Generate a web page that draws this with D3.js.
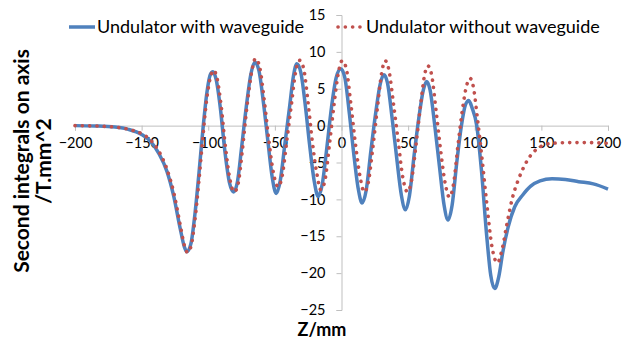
<!DOCTYPE html>
<html>
<head>
<meta charset="utf-8">
<script src="https://cdn.jsdelivr.net/npm/d3@7"></script>
<style>
  html, body { margin: 0; padding: 0; background: #fff; }
  svg { display: block; font-family: Lato, "Open Sans", sans-serif; }
</style>
</head>
<body>
<svg id="chart" width="633" height="340"></svg>
<script>
// Z positions (mm) and second integrals (T.mm^2)
const withZ = [-200, -185, -170, -160, -150, -143, -137, -131, -126, -121, -118, -116, -113, -110, -107, -104, -101, -98.5, -96.5, -94, -91, -87.5, -84, -81, -78, -75, -71.5, -68, -65, -62, -58.5, -55, -52, -49, -46, -42.5, -39, -36, -33.5, -30.5, -27, -24, -20.5, -17.5, -14.5, -11, -7.5, -4, -0.5, 2.5, 6, 9, 12.5, 15.5, 18.5, 22, 25.5, 29, 31.8, 34.5, 38, 41.5, 45, 48, 51, 54.5, 58, 61.5, 64, 66.5, 70, 73.5, 77, 80, 83, 86.5, 90, 93, 95.5, 98, 101.5, 105, 109, 112, 115, 118, 121, 125, 130, 136, 142, 149, 158, 168, 178, 189, 200];
const withVal = [0, -0.05, -0.2, -0.5, -1.2, -2.2, -3.8, -6.2, -9.5, -14.0, -16.4, -17.1, -16.0, -12.0, -6.5, -0.5, 4.5, 6.9, 7.3, 6.2, 2.5, -3.5, -7.8, -9.0, -7.5, -3.0, 2.5, 7.0, 8.6, 7.5, 3.0, -2.5, -7.0, -9.2, -7.5, -2.5, 2.5, 6.8, 8.4, 7.2, 2.5, -2.5, -7.5, -9.6, -8.0, -3.0, 2.5, 6.5, 7.7, 6.5, 1.5, -3.5, -8.5, -10.5, -8.8, -3.5, 1.5, 5.6, 6.9, 5.8, 1.0, -4.5, -9.5, -11.4, -9.5, -4.0, 1.0, 4.9, 6.0, 4.8, 0.0, -5.5, -10.8, -12.8, -10.8, -5.0, 0.0, 2.8, 3.4, 2.4, 0.0, -6.0, -15.0, -20.3, -22.1, -20.5, -17.2, -13.8, -11.0, -9.4, -8.2, -7.5, -7.2, -7.3, -7.6, -7.9, -8.6];

const withoutZ = [-200, -185, -170, -160, -150, -143, -137, -131, -126, -121, -118, -115.5, -113, -110, -107, -104, -101, -98, -96, -93.5, -90.5, -87, -83.5, -80.5, -77.5, -74.5, -71, -67.5, -64.5, -61.5, -58, -54.5, -51, -47.5, -44.5, -41, -37.5, -34.5, -31.5, -28.5, -25, -22, -18.5, -15.5, -12.5, -9, -5.5, -2.5, 0.5, 3.5, 7, 10.5, 14, 17, 20, 23.5, 27, 30, 32.8, 35.5, 39, 42.5, 46, 49.5, 52.5, 56, 59.5, 62.5, 64.8, 67.5, 71, 74.5, 78, 81, 84, 87.5, 91, 94, 96.6, 99, 102, 105.5, 109, 113, 117, 120.5, 124, 128, 133, 138, 143, 149, 158, 170, 185, 200];
const withoutVal = [0, -0.05, -0.2, -0.5, -1.1, -2.0, -3.5, -5.9, -9.0, -13.5, -16.2, -17.2, -16.4, -12.8, -7.5, -1.5, 3.8, 6.8, 7.5, 6.5, 3.0, -3.0, -7.5, -9.0, -7.8, -3.5, 2.5, 7.2, 9.1, 8.0, 3.5, -2.0, -6.5, -8.3, -6.8, -2.0, 3.0, 7.2, 8.85, 7.8, 3.0, -2.0, -6.5, -8.7, -7.5, -2.5, 3.0, 7.0, 8.8, 7.8, 3.0, -2.5, -7.0, -9.0, -7.8, -3.0, 2.5, 7.0, 8.8, 7.6, 3.0, -2.0, -7.0, -9.0, -7.5, -2.5, 3.0, 7.0, 8.1, 7.0, 2.0, -3.5, -8.0, -9.7, -8.0, -2.5, 2.5, 5.5, 6.4, 5.2, 1.0, -4.5, -10.5, -16.5, -18.6, -16.8, -13.5, -10.0, -7.2, -5.2, -3.8, -2.9, -2.4, -2.3, -2.3, -2.4];

const xTicks = [-200, -150, -100, -50, 0, 50, 100, 150, 200];
const yTicks = [-25, -20, -15, -10, -5, 0, 5, 10, 15];
const seriesNames = ["Undulator with waveguide", "Undulator without waveguide"];

const svg = d3.select("#chart");
const axisColor = "#bfbfbf";

const x = d3.scaleLinear().domain([-200, 200]).range([75, 608]);
const y = d3.scaleLinear().domain([-25, 15]).range([310, 15]);

// x axis along y = 0
const gx = svg.append("g")
  .attr("transform", `translate(0,${y(0)})`)
  .call(d3.axisBottom(x).tickValues(xTicks).tickSize(5).tickPadding(7).tickFormat(d3.format("d")));
gx.select(".domain").attr("stroke", axisColor);
gx.selectAll(".tick line").attr("stroke", axisColor);
gx.selectAll(".tick text").attr("fill", "#000").style("font-size", "14.5px").style("font-family", "Lato");

// y axis along x = 0
const gy = svg.append("g")
  .attr("transform", `translate(${x(0)},0)`)
  .call(d3.axisLeft(y).tickValues(yTicks).tickSize(5).tickPadding(11).tickFormat(d3.format("d")));
gy.select(".domain").attr("stroke", axisColor);
gy.selectAll(".tick line").attr("stroke", axisColor);
gy.selectAll(".tick text").attr("fill", "#000").style("font-size", "14.5px").style("font-family", "Lato");

const line = d3.line().curve(d3.curveMonotoneX);

svg.append("path")
  .attr("d", line(withZ.map((z, i) => [x(z), y(withVal[i])])))
  .attr("fill", "none")
  .attr("stroke", "#4f81bd")
  .attr("stroke-width", 3.5)
  .attr("stroke-linejoin", "round");

svg.append("path")
  .attr("d", line(withoutZ.map((z, i) => [x(z), y(withoutVal[i])])))
  .attr("fill", "none")
  .attr("stroke", "#c0504d")
  .attr("stroke-width", 3.6)
  .attr("stroke-linecap", "round")
  .attr("stroke-dasharray", "0.1 7.2");

// legend
const legend = svg.append("g").style("font-size", "18px");
legend.append("line")
  .attr("x1", 69).attr("x2", 95).attr("y1", 27).attr("y2", 27)
  .attr("stroke", "#4f81bd").attr("stroke-width", 3.5);
legend.append("text").attr("x", 97).attr("y", 33).text(seriesNames[0]);
legend.append("line")
  .attr("x1", 338).attr("x2", 362).attr("y1", 27).attr("y2", 27)
  .attr("stroke", "#c0504d").attr("stroke-width", 3.6)
  .attr("stroke-linecap", "round").attr("stroke-dasharray", "0.1 7.2");
legend.append("text").attr("x", 366).attr("y", 33).text(seriesNames[1]);

// axis titles
svg.append("text")
  .attr("x", 322).attr("y", 336)
  .attr("text-anchor", "middle")
  .style("font-size", "18px").style("font-weight", "bold")
  .text("Z/mm");

const yTitle = svg.append("text")
  .attr("transform", "translate(29,161) rotate(-90)")
  .attr("text-anchor", "middle")
  .style("font-size", "21px").style("font-weight", "bold");
yTitle.append("tspan").attr("x", 0).attr("dy", 0).text("Second integrals on axis");
yTitle.append("tspan").attr("x", 0).attr("dy", 22).text("/T.mm^2");
</script>
</body>
</html>
